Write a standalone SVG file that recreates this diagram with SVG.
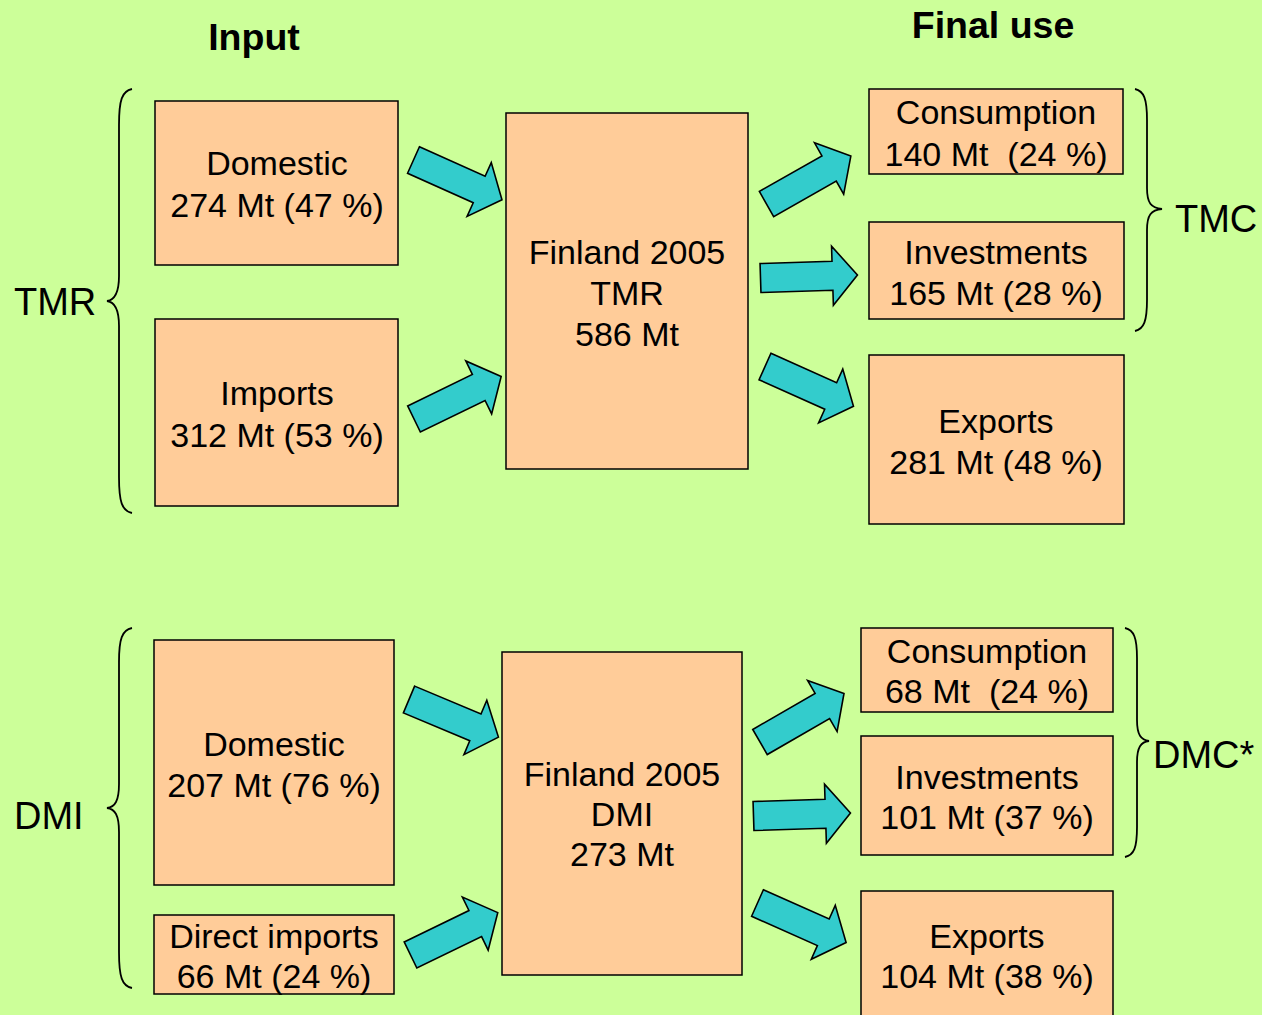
<svg xmlns="http://www.w3.org/2000/svg" xmlns:xlink="http://www.w3.org/1999/xlink" width="1262" height="1015" viewBox="0 0 1262 1015">
<style>
.box{fill:#FFCC99;stroke:#000;stroke-width:1.5}
.t{font-family:"Liberation Sans",Arial,sans-serif;font-size:34px;fill:#000;text-anchor:middle;white-space:pre}
.h{font-family:"Liberation Sans",Arial,sans-serif;font-size:37.5px;font-weight:bold;fill:#000;text-anchor:middle}
.lab{font-family:"Liberation Sans",Arial,sans-serif;font-size:38px;fill:#000}
.brace{fill:none;stroke:#000;stroke-width:1.8}
.arr{fill:#33CCCC;stroke:#000;stroke-width:1.6;stroke-linejoin:miter}
</style>
<defs>
<polygon id="arrow" class="arr" points="0,-14.5 72,-14.5 72,-29.5 97,0 72,29.5 72,14.5 0,14.5"/>
</defs>
<rect x="0" y="0" width="1262" height="1015" fill="#CCFF99"/>
<text class="h" x="254" y="50">Input</text>
<text class="h" x="993" y="38">Final use</text>

<g id="connectors">
<use xlink:href="#arrow" href="#arrow" transform="translate(413.5,160) rotate(24.2)"/>
<use xlink:href="#arrow" href="#arrow" transform="translate(414,419) rotate(-26)"/>
<use xlink:href="#arrow" href="#arrow" transform="translate(766.5,204) rotate(-29.6)"/>
<use xlink:href="#arrow" href="#arrow" transform="translate(760.5,278) rotate(-1.8)"/>
<use xlink:href="#arrow" href="#arrow" transform="translate(765,366.5) rotate(24.2)"/>
<use xlink:href="#arrow" href="#arrow" transform="translate(409,699.5) rotate(22.8)"/>
<use xlink:href="#arrow" href="#arrow" transform="translate(410.5,955) rotate(-25.9)"/>
<use xlink:href="#arrow" href="#arrow" transform="translate(760,742) rotate(-30)"/>
<use xlink:href="#arrow" href="#arrow" transform="translate(753.5,816) rotate(-1.8)"/>
<use xlink:href="#arrow" href="#arrow" transform="translate(757.5,903) rotate(24)"/>
</g>

<g id="tmr-brace">
<path class="brace" d="M132,89 C122,91 119,100 119,125 L119,276 C119,293 115,300 107,301 C115,302 119,309 119,326 L119,477 C119,502 122,511 132,513"/>
<text class="lab" x="14" y="315">TMR</text>
</g>
<g id="dmi-brace">
<path class="brace" d="M132,628 C122,630 119,639 119,662 L119,784 C119,801 115,807 107,808 C115,809 119,815 119,832 L119,952 C119,977 122,986 132,988"/>
<text class="lab" x="14" y="829">DMI</text>
</g>
<g id="tmc-brace">
<path class="brace" d="M1135,89 C1144,91 1147,99 1147,120 L1147,188 C1147,203 1151,208 1162,209 C1151,210 1147,215 1147,230 L1147,300 C1147,321 1144,329 1135,331"/>
<text class="lab" x="1175" y="232">TMC</text>
</g>
<g id="dmc-brace">
<path class="brace" d="M1125,628 C1134,630 1137,638 1137,658 L1137,720 C1137,735 1141,740 1149,741 C1141,742 1137,747 1137,762 L1137,827 C1137,848 1134,855 1125,857"/>
<text class="lab" x="1153" y="768">DMC*</text>
</g>

<g id="tmr-domestic">
<rect class="box" x="155" y="101" width="243" height="164"/>
<text class="t" x="277" y="175">Domestic</text>
<text class="t" x="277" y="217">274 Mt (47 %)</text>
</g>
<g id="tmr-imports">
<rect class="box" x="155" y="319" width="243" height="187"/>
<text class="t" x="277" y="405">Imports</text>
<text class="t" x="277" y="447">312 Mt (53 %)</text>
</g>
<g id="tmr-finland">
<rect class="box" x="506" y="113" width="242" height="356"/>
<text class="t" x="627" y="264">Finland 2005</text>
<text class="t" x="627" y="305">TMR</text>
<text class="t" x="627" y="346">586 Mt</text>
</g>
<g id="tmr-consumption">
<rect class="box" x="869" y="89" width="254" height="85"/>
<text class="t" x="996" y="124">Consumption</text>
<text class="t" x="996" y="166">140 Mt  (24 %)</text>
</g>
<g id="tmr-investments">
<rect class="box" x="869" y="222" width="255" height="97"/>
<text class="t" x="996" y="264">Investments</text>
<text class="t" x="996" y="305">165 Mt (28 %)</text>
</g>
<g id="tmr-exports">
<rect class="box" x="869" y="355" width="255" height="169"/>
<text class="t" x="996" y="433">Exports</text>
<text class="t" x="996" y="474">281 Mt (48 %)</text>
</g>

<g id="dmi-domestic">
<rect class="box" x="154" y="640" width="240" height="245"/>
<text class="t" x="274" y="756">Domestic</text>
<text class="t" x="274" y="797">207 Mt (76 %)</text>
</g>
<g id="dmi-direct-imports">
<rect class="box" x="154" y="915" width="240" height="79"/>
<text class="t" x="274" y="948">Direct imports</text>
<text class="t" x="274" y="988">66 Mt (24 %)</text>
</g>
<g id="dmi-finland">
<rect class="box" x="502" y="652" width="240" height="323"/>
<text class="t" x="622" y="786">Finland 2005</text>
<text class="t" x="622" y="826">DMI</text>
<text class="t" x="622" y="866">273 Mt</text>
</g>
<g id="dmi-consumption">
<rect class="box" x="861" y="628" width="252" height="84"/>
<text class="t" x="987" y="663">Consumption</text>
<text class="t" x="987" y="703">68 Mt  (24 %)</text>
</g>
<g id="dmi-investments">
<rect class="box" x="861" y="736" width="252" height="119"/>
<text class="t" x="987" y="789">Investments</text>
<text class="t" x="987" y="829">101 Mt (37 %)</text>
</g>
<g id="dmi-exports">
<rect class="box" x="861" y="891" width="252" height="130"/>
<text class="t" x="987" y="948">Exports</text>
<text class="t" x="987" y="988">104 Mt (38 %)</text>
</g>
</svg>
